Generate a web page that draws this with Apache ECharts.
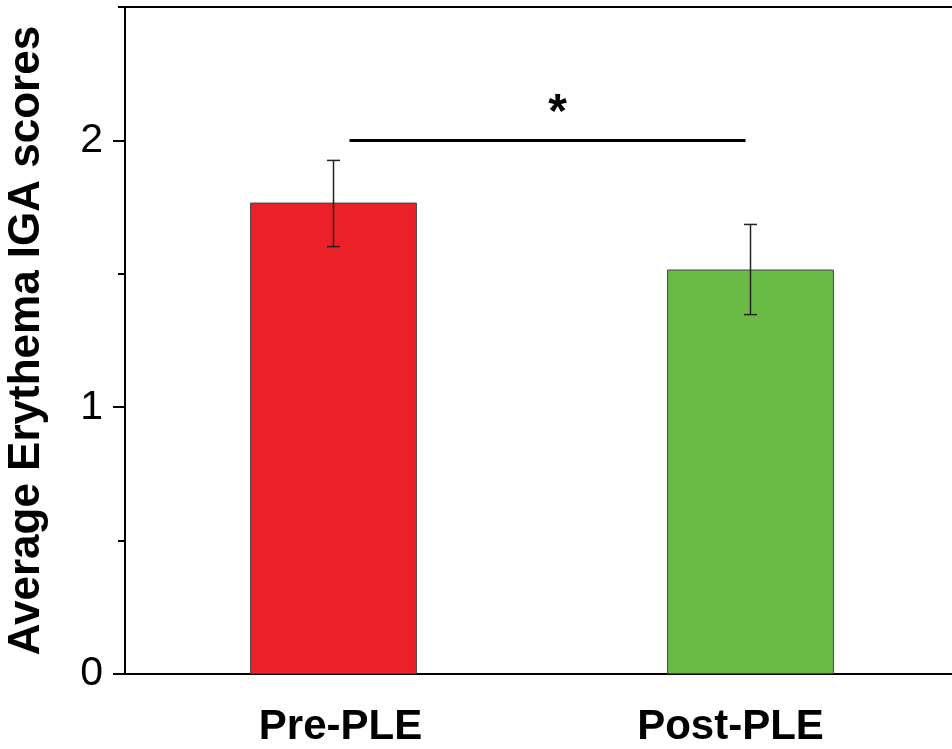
<!DOCTYPE html>
<html>
<head>
<meta charset="utf-8">
<script src="https://cdn.jsdelivr.net/npm/echarts@6/dist/echarts.min.js"></script>
<style>
  html, body { margin: 0; padding: 0; background: #fff; }
  #chart { width: 952px; height: 749px; }
</style>
</head>
<body>
<div id="chart"></div>
<script>
// data
var categories = ['Pre-PLE', 'Post-PLE']
var means = [1.767, 1.516]
var errLow = [1.602, 1.347]
var errHigh = [1.925, 1.685]
var barColors = ['#ec2028', '#69bb46']
var majorTicks = [0, 1, 2]
var minorTicks = [0.5, 1.5, 2.5]
// significance bracket: [from category, to category, height, label]
var sigBracket = [[0, 1, 2.0, '*']]

var font = '"Liberation Sans", Arial, sans-serif'
var chart = echarts.init(document.getElementById('chart'))

var labelStyle = {
  color: '#000',
  fontFamily: font,
  fontWeight: 'bold',
  fontSize: 42
}

chart.setOption({
  animation: false,
  grid: {
    left: 125,
    top: 7,
    width: 834,
    height: 667,
    outerBoundsMode: 'none',
    containLabel: false,
    show: true,
    borderColor: '#000',
    borderWidth: 2,
    backgroundColor: 'transparent'
  },
  xAxis: {
    type: 'category',
    data: categories,
    axisLine: { lineStyle: { color: '#000', width: 2 } },
    axisTick: { show: false },
    axisLabel: {
      color: '#000',
      fontFamily: font,
      fontWeight: 'bold',
      fontSize: 42,
      margin: 32,
      // labels in the figure sit a little off the bar centres
      formatter: function (v, i) {
        return i === 0 ? '{a|' + v + '}' : '{b|' + v + '}'
      },
      rich: {
        a: Object.assign({ padding: [0, 0, 0, 14] }, labelStyle),
        b: Object.assign({ padding: [0, 40, 0, 0] }, labelStyle)
      }
    }
  },
  yAxis: [
    {
      type: 'value',
      min: 0,
      max: 2.5,
      name: 'Average Erythema IGA scores',
      nameLocation: 'middle',
      nameGap: 76,
      nameTextStyle: {
        color: '#000',
        fontFamily: font,
        fontWeight: 'bold',
        fontSize: 44
      },
      splitLine: { show: false },
      axisLine: { show: true, lineStyle: { color: '#000', width: 2 } },
      axisTick: {
        show: true,
        length: 7,
        customValues: minorTicks,
        lineStyle: { color: '#000', width: 2 }
      },
      axisLabel: {
        customValues: majorTicks,
        color: '#000',
        fontFamily: font,
        fontSize: 41,
        margin: 22
      }
    },
    {
      type: 'value',
      min: 0,
      max: 2.5,
      position: 'left',
      splitLine: { show: false },
      axisLine: { show: false },
      axisLabel: { show: false },
      axisTick: {
        show: true,
        length: 12,
        customValues: majorTicks,
        lineStyle: { color: '#000', width: 2 }
      }
    }
  ],
  series: [
    {
      type: 'bar',
      barWidth: '40%',
      data: means.map(function (v, i) {
        return {
          value: v,
          itemStyle: { color: barColors[i], borderColor: '#444', borderWidth: 1 }
        }
      }),
      z: 2
    },
    {
      type: 'custom',
      data: categories.map(function (c, i) { return [i, errLow[i], errHigh[i]] }),
      renderItem: function (params, api) {
        var lo = api.coord([api.value(0), api.value(1)])
        var hi = api.coord([api.value(0), api.value(2)])
        var cap = 6.5
        var style = { stroke: '#222', lineWidth: 1.5 }
        return {
          type: 'group',
          children: [
            { type: 'line', shape: { x1: lo[0], y1: lo[1], x2: hi[0], y2: hi[1] }, style: style },
            { type: 'line', shape: { x1: lo[0] - cap, y1: lo[1], x2: lo[0] + cap, y2: lo[1] }, style: style },
            { type: 'line', shape: { x1: hi[0] - cap, y1: hi[1], x2: hi[0] + cap, y2: hi[1] }, style: style }
          ]
        }
      },
      z: 3
    },
    {
      type: 'custom',
      data: sigBracket,
      renderItem: function (params, api) {
        var a = api.coord([api.value(0), api.value(2)])
        var b = api.coord([api.value(1), api.value(2)])
        var x1 = a[0] + 16
        var x2 = b[0] - 5
        return {
          type: 'group',
          children: [
            { type: 'line', shape: { x1: x1, y1: a[1], x2: x2, y2: a[1] }, style: { stroke: '#000', lineWidth: 3 } },
            {
              type: 'text',
              x: (x1 + x2) / 2 + 10,
              y: a[1] - 27,
              style: {
                text: sigBracket[params.dataIndex][3],
                fill: '#000',
                font: 'bold 48px ' + font,
                align: 'center',
                verticalAlign: 'middle'
              }
            }
          ]
        }
      },
      z: 3
    }
  ]
})
</script>
</body>
</html>
